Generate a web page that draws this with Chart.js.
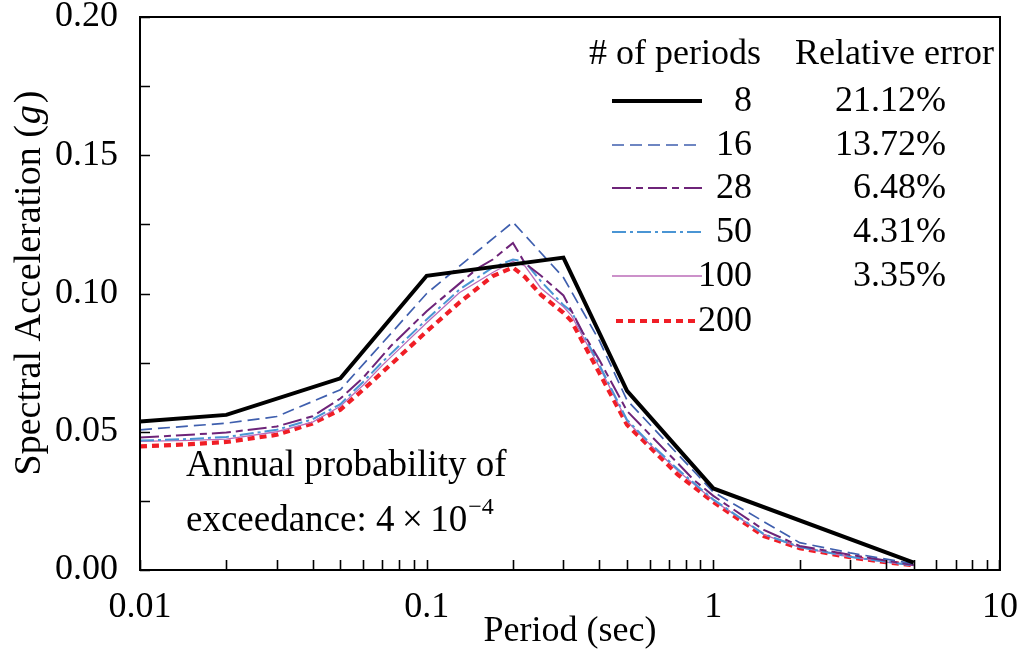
<!DOCTYPE html>
<html>
<head>
<meta charset="utf-8">
<script src="https://cdn.jsdelivr.net/npm/chart.js@4.4.0/dist/chart.umd.min.js"></script>
<style>
  html, body { margin: 0; padding: 0; background: #fff; }
  #wrap { width: 1023px; height: 654px; }
</style>
</head>
<body>
<div id="wrap"><canvas id="chart" width="1023" height="654"></canvas></div>
<script>
// spectre de reponse : 8 / 16 / 28 / 50 / 100 / 200 periodes
const periods8 = [0.01, 0.02, 0.05, 0.1, 0.3, 0.5, 1, 5];
const sa8 = [0.0537, 0.0561, 0.0693, 0.1064, 0.1130, 0.0648, 0.0295, 0.0027];

const periods16 = [0.01, 0.02, 0.03, 0.05, 0.075, 0.1, 0.15, 0.2, 0.3, 0.4, 0.5, 0.75, 1, 2, 3, 5];
const sa16 = [0.0507, 0.0531, 0.0555, 0.0652, 0.0855, 0.1000, 0.1152, 0.1258, 0.1058, 0.0830, 0.0614, 0.0420, 0.0282, 0.0099, 0.0062, 0.0022];

const periods28 = [0.01, 0.02, 0.03, 0.04, 0.05, 0.06, 0.075, 0.1, 0.12, 0.15, 0.17, 0.2, 0.22, 0.25, 0.28, 0.3, 0.35, 0.4, 0.5, 0.6, 0.75, 0.85, 1, 1.5, 2, 3, 4, 5];
const sa28 = [0.0479, 0.0497, 0.0519, 0.0556, 0.0620, 0.0695, 0.0810, 0.0936, 0.1005, 0.1090, 0.1123, 0.1183, 0.1110, 0.1065, 0.1020, 0.0993, 0.0860, 0.0760, 0.0575, 0.0490, 0.0387, 0.0328, 0.0268, 0.0145, 0.0087, 0.0055, 0.0034, 0.0018];

const periodsFine = [0.01, 0.015, 0.02, 0.03, 0.04, 0.05, 0.06, 0.07, 0.08, 0.1, 0.13, 0.17, 0.2, 0.22, 0.25, 0.3, 0.32, 0.4, 0.5, 0.6, 0.75, 1, 1.5, 2, 3, 4, 5];
const sa50 = [0.0468, 0.0474, 0.0481, 0.0507, 0.0545, 0.0600, 0.0680, 0.0752, 0.0810, 0.0906, 0.1014, 0.1094, 0.1123, 0.1115, 0.1045, 0.0958, 0.0935, 0.0742, 0.0543, 0.0460, 0.0365, 0.0255, 0.0130, 0.0083, 0.0048, 0.0030, 0.0016];
const sa100 = [0.0465, 0.0469, 0.0473, 0.0500, 0.0535, 0.0592, 0.0668, 0.0740, 0.0798, 0.0894, 0.1003, 0.1076, 0.1116, 0.1100, 0.1020, 0.0952, 0.0920, 0.0735, 0.0538, 0.0455, 0.0360, 0.0252, 0.0128, 0.0082, 0.0047, 0.0029, 0.0016];
const sa200 = [0.0447, 0.0455, 0.0463, 0.0489, 0.0530, 0.0580, 0.0652, 0.0715, 0.0770, 0.0863, 0.0967, 0.1063, 0.1094, 0.1060, 0.0996, 0.0930, 0.0900, 0.0713, 0.0525, 0.0445, 0.0346, 0.0246, 0.0123, 0.0079, 0.0046, 0.0028, 0.0017];

const periodCounts = ['8', '16', '28', '50', '100', '200'];
const relErrors = ['21.12%', '13.72%', '6.48%', '4.31%', '3.35%', ''];

const xDecades = [0.01, 0.1, 1, 10];
const yTicks = [0, 0.05, 0.10, 0.15, 0.20];

const SERIF = '"Liberation Serif", "Times New Roman", serif';
const FS = 36;

function pts(xs, ys) {
    return xs.map((x, i) => ({ x: x, y: ys[i] }));
}

const datasets = [
    { label: '8', data: pts(periods8, sa8), borderColor: '#000000', borderWidth: 4, borderDash: [] },
    { label: '16', data: pts(periods16, sa16), borderColor: '#3f5fae', borderWidth: 1.7, borderDash: [12, 6] },
    { label: '28', data: pts(periods28, sa28), borderColor: '#6e2479', borderWidth: 2, borderDash: [19, 5, 7, 5] },
    { label: '50', data: pts(periodsFine, sa50), borderColor: '#4a95d4', borderWidth: 2, borderDash: [14, 4, 3, 4] },
    { label: '100', data: pts(periodsFine, sa100), borderColor: '#bb6cb9', borderWidth: 1.3, borderDash: [] },
    { label: '200', data: pts(periodsFine, sa200), borderColor: '#f01e26', borderWidth: 4.2, borderDash: [7, 5] }
];
datasets.forEach(d => { d.pointRadius = 0; d.fill = false; d.tension = 0; });
// on dessine la courbe noire au-dessus
datasets[0].order = -1;

// cadre, graduations internes, titres, legende
const decorPlugin = {
    id: 'decor',
    afterDraw(chart) {
        const ctx = chart.ctx;
        const a = chart.chartArea;
        const xs = chart.scales.x, ys = chart.scales.y;
        ctx.save();
        ctx.strokeStyle = '#000';
        ctx.lineWidth = 2;
        ctx.strokeRect(a.left, a.top, a.right - a.left, a.bottom - a.top);

        // graduations y (0.025)
        ctx.lineWidth = 1.6;
        ctx.beginPath();
        for (let v = 0; v <= 0.2001; v += 0.025) {
            const py = Math.round(ys.getPixelForValue(v)) + 0.5;
            ctx.moveTo(a.left, py);
            ctx.lineTo(a.left + 10, py);
        }
        // graduations x (log)
        for (let d = 0.01; d < 10; d *= 10) {
            for (let k = 1; k <= 9; k++) {
                const px = Math.round(xs.getPixelForValue(d * k)) + 0.5;
                ctx.moveTo(px, a.bottom);
                ctx.lineTo(px, a.bottom - 10);
            }
        }
        const p10 = Math.round(xs.getPixelForValue(10)) - 0.5;
        ctx.moveTo(p10, a.bottom);
        ctx.lineTo(p10, a.bottom - 10);
        ctx.stroke();

        ctx.fillStyle = '#000';
        // titre x
        ctx.font = FS + 'px ' + SERIF;
        ctx.textAlign = 'center';
        ctx.textBaseline = 'middle';
        ctx.fillText('Period (sec)', 570, 632);

        // titre y avec g italique
        ctx.save();
        ctx.translate(30, 283);
        ctx.rotate(-Math.PI / 2);
        const t1 = 'Spectral Acceleration (', t2 = 'g', t3 = ')';
        const fy = 38;
        ctx.font = fy + 'px ' + SERIF;
        const w1 = ctx.measureText(t1).width, w3 = ctx.measureText(t3).width;
        ctx.font = 'italic ' + fy + 'px ' + SERIF;
        const w2 = ctx.measureText(t2).width;
        let x0 = -(w1 + w2 + w3 + 3) / 2;
        ctx.textAlign = 'left';
        ctx.font = fy + 'px ' + SERIF;
        ctx.fillText(t1, x0, 0);
        ctx.font = 'italic ' + fy + 'px ' + SERIF;
        ctx.fillText(t2, x0 + w1 + 1, 0);
        ctx.font = fy + 'px ' + SERIF;
        ctx.fillText(t3, x0 + w1 + w2 + 3, 0);
        ctx.restore();

        // annotation
        ctx.textAlign = 'left';
        ctx.font = '37px ' + SERIF;
        ctx.fillText('Annual probability of', 186, 466);
        const s = 'exceedance: 4\u2009\u00d7\u200910';
        ctx.fillText(s, 186, 521);
        const ws = ctx.measureText(s).width;
        ctx.font = '24px ' + SERIF;
        ctx.fillText('\u22124', 186 + ws + 1, 508);

        // legende
        ctx.font = FS + 'px ' + SERIF;
        ctx.fillText('# of periods', 589, 55);
        ctx.fillText('Relative error', 795, 55);
        const rowY = [101, 145, 188, 232, 276, 321];
        chart.data.datasets.forEach((ds, i) => {
            const y = rowY[i];
            ctx.save();
            ctx.strokeStyle = ds.borderColor;
            ctx.lineWidth = ds.borderWidth;
            ctx.setLineDash(ds.borderDash);
            ctx.beginPath();
            ctx.moveTo(i === 5 ? 616 : 612, y);
            ctx.lineTo(i === 5 ? 698 : 702, y);
            ctx.stroke();
            ctx.restore();
            ctx.textAlign = 'right';
            ctx.fillText(periodCounts[i], 752, y + 1);
            ctx.fillText(relErrors[i], 946, y + 1);
        });
        ctx.restore();
    }
};

new Chart(document.getElementById('chart'), {
    type: 'line',
    data: { datasets: datasets },
    options: {
        responsive: false,
        animation: false,
        layout: { padding: { left: 0, right: 23, top: 17, bottom: 0 } },
        plugins: { legend: { display: false }, tooltip: { enabled: false } },
        scales: {
            x: {
                type: 'logarithmic',
                min: 0.01,
                max: 10,
                grid: { display: false },
                border: { display: false },
                afterBuildTicks: sc => { sc.ticks = xDecades.map(v => ({ value: v })); },
                afterFit: sc => { sc.height = 84; sc.paddingLeft = 0; sc.paddingRight = 0; },
                ticks: {
                    autoSkip: false,
                    maxRotation: 0,
                    padding: 8,
                    color: '#000',
                    font: { family: SERIF, size: FS },
                    callback: v => String(v)
                }
            },
            y: {
                min: 0,
                max: 0.2,
                grid: { display: false },
                border: { display: false },
                afterBuildTicks: sc => { sc.ticks = yTicks.map(v => ({ value: v })); },
                afterFit: sc => { sc.width = 140; sc.paddingTop = 0; sc.paddingBottom = 0; },
                ticks: {
                    padding: 14,
                    color: '#000',
                    font: { family: SERIF, size: FS },
                    callback: v => v.toFixed(2)
                }
            }
        }
    },
    plugins: [decorPlugin]
});
</script>
</body>
</html>
